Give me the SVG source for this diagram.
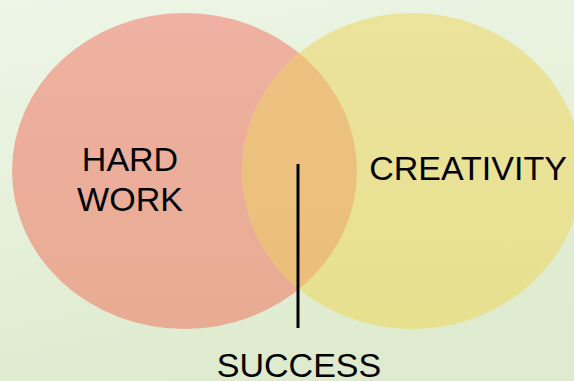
<svg xmlns="http://www.w3.org/2000/svg" width="574" height="381" viewBox="0 0 574 381">
  <defs>
    <linearGradient id="bg" x1="0" y1="0" x2="0.3" y2="1">
      <stop offset="0" stop-color="#EEF6E7"/>
      <stop offset="1" stop-color="#DEEBCE"/>
    </linearGradient>
    <linearGradient id="redFill" x1="0" y1="0" x2="0" y2="1">
      <stop offset="0" stop-color="#EFB1A1"/>
      <stop offset="1" stop-color="#E8AB93"/>
    </linearGradient>
    <linearGradient id="yellowFill" x1="0" y1="0" x2="0" y2="1">
      <stop offset="0" stop-color="#ECE39C"/>
      <stop offset="1" stop-color="#E7E08F"/>
    </linearGradient>
    <linearGradient id="overlapFill" x1="0" y1="0" x2="0" y2="1">
      <stop offset="0" stop-color="#EDC282"/>
      <stop offset="1" stop-color="#EBBE79"/>
    </linearGradient>
    <clipPath id="leftClip">
      <ellipse cx="184.5" cy="171" rx="172.5" ry="158"/>
    </clipPath>
    <style>
      .label { font-family: "Liberation Sans", Arial, Helvetica, sans-serif; font-size: 34px; fill: #000; text-anchor: middle; }
      .pointer { stroke: #000; stroke-width: 3; fill: none; }
    </style>
  </defs>

  <rect x="0" y="0" width="574" height="381" fill="url(#bg)"/>

  <g id="hard-work">
    <ellipse cx="184.5" cy="171" rx="172.5" ry="158" fill="url(#redFill)"/>
    <text class="label" x="130" y="171">HARD</text>
    <text class="label" x="130" y="211">WORK</text>
  </g>

  <g id="creativity">
    <ellipse cx="412" cy="171" rx="170" ry="158" fill="url(#yellowFill)"/>
    <text class="label" x="468" y="180">CREATIVITY</text>
  </g>

  <!-- intersection of the two circles -->
  <g id="success-overlap">
    <ellipse cx="412" cy="171" rx="170" ry="158" fill="url(#overlapFill)" clip-path="url(#leftClip)"/>
  </g>

  <g id="connectors">
    <line class="pointer" x1="298" y1="164" x2="298" y2="328"/>
  </g>

  <g id="success">
    <text class="label" x="299" y="377">SUCCESS</text>
  </g>
</svg>
